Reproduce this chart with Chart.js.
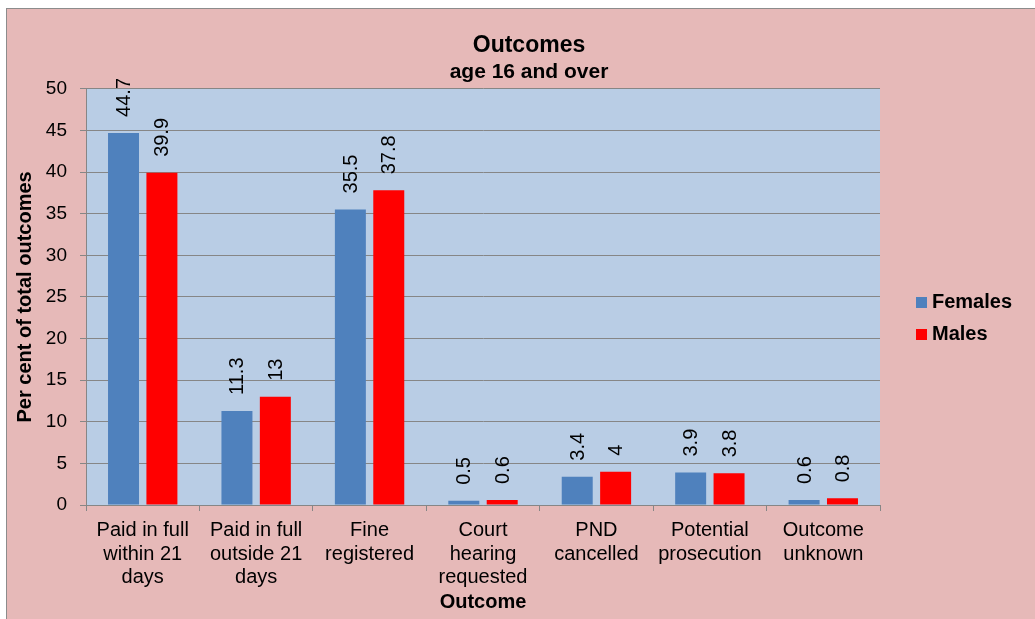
<!DOCTYPE html>
<html>
<head>
<meta charset="utf-8">
<script src="https://cdn.jsdelivr.net/npm/chart.js@4.4.0/dist/chart.umd.min.js"></script>
<style>
  html, body { margin: 0; padding: 0; background: #fff; overflow: hidden; width: 1035px; height: 619px; }
  .chart-frame { position: absolute; left: 6px; top: 8px; width: 1100px; height: 700px; background: #e6b9b8; border: 1px solid #8c8c8c; }
  .chart-box { position: absolute; left: 0; top: 0; width: 1044px; height: 620px; }
</style>
</head>
<body>
<div class="chart-frame"><div class="chart-box"><canvas id="chart"></canvas></div></div>
<script>
const outcomeLabels = [
  ['Paid in full', 'within 21', 'days'],
  ['Paid in full', 'outside 21', 'days'],
  ['Fine', 'registered'],
  ['Court', 'hearing', 'requested'],
  ['PND', 'cancelled'],
  ['Potential', 'prosecution'],
  ['Outcome', 'unknown'],
];
const femalesValues = [44.7, 11.3, 35.5, 0.5, 3.4, 3.9, 0.6];
const malesValues = [39.9, 13, 37.8, 0.6, 4, 3.8, 0.8];
const yTicks = [0, 5, 10, 15, 20, 25, 30, 35, 40, 45, 50];

const fontFamily = "'Liberation Sans', Arial, sans-serif";
const gridGray = '#868686';

// light blue plot background
const plotBackground = {
  id: 'plotBackground',
  beforeDraw(chart) {
    const { ctx, chartArea } = chart;
    ctx.save();
    ctx.fillStyle = '#b9cde5';
    ctx.fillRect(chartArea.left, chartArea.top, chartArea.right - chartArea.left, chartArea.bottom - chartArea.top);
    ctx.restore();
  },
};

// rotated value labels above each bar
const barValueLabels = {
  id: 'barValueLabels',
  afterDatasetsDraw(chart) {
    const { ctx } = chart;
    ctx.save();
    ctx.font = `20px ${fontFamily}`;
    ctx.fillStyle = '#000';
    ctx.textAlign = 'left';
    ctx.textBaseline = 'middle';
    chart.data.datasets.forEach((ds, i) => {
      chart.getDatasetMeta(i).data.forEach((bar, j) => {
        ctx.save();
        ctx.translate(bar.x + 1, bar.y - 16);
        ctx.rotate(-Math.PI / 2);
        ctx.fillText(String(ds.data[j]), 0, 0);
        ctx.restore();
      });
    });
    ctx.restore();
  },
};

// legend on the right, outside the plot
const sideLegend = {
  id: 'sideLegend',
  afterDraw(chart) {
    const { ctx } = chart;
    ctx.save();
    ctx.font = `bold 20px ${fontFamily}`;
    ctx.textBaseline = 'middle';
    ctx.textAlign = 'left';
    chart.data.datasets.forEach((ds, i) => {
      const y = 293.5 + i * 32;
      ctx.fillStyle = ds.backgroundColor;
      ctx.fillRect(909, y - 5.5, 11, 11);
      ctx.fillStyle = '#000';
      ctx.fillText(ds.label, 925, y);
    });
    ctx.restore();
  },
};

const ctx = document.querySelector('#chart').getContext('2d');

const myChart = new Chart(ctx, {
  type: 'bar',
  data: {
    labels: outcomeLabels,
    datasets: [
      { label: 'Females', data: femalesValues, backgroundColor: '#4f81bd' },
      { label: 'Males', data: malesValues, backgroundColor: '#ff0000' },
    ],
  },
  options: {
    responsive: true,
    maintainAspectRatio: false,
    animation: false,
    categoryPercentage: 0.677,
    barPercentage: 0.807,
    layout: { padding: 0 },
    plugins: {
      legend: { display: false },
      tooltip: { enabled: false },
      title: {
        display: true,
        text: 'Outcomes',
        color: '#000',
        font: { family: fontFamily, size: 23, weight: 'bold', lineHeight: 1.2 },
        padding: { top: 23, bottom: 0 },
      },
      subtitle: {
        display: true,
        text: 'age 16 and over',
        color: '#000',
        font: { family: fontFamily, size: 21, weight: 'bold', lineHeight: 1.2 },
        padding: { top: 0, bottom: 4 },
      },
    },
    scales: {
      x: {
        afterFit: (scale) => { scale.height = 124; },
        grid: { display: true, drawOnChartArea: false, drawTicks: true, tickLength: 6, color: gridGray, offset: true },
        border: { display: true, color: gridGray },
        ticks: {
          color: '#000',
          font: { family: fontFamily, size: 20, lineHeight: 1.17 },
          padding: 8,
          maxRotation: 0,
          minRotation: 0,
          autoSkip: false,
        },
        title: {
          display: true,
          text: 'Outcome',
          color: '#000',
          font: { family: fontFamily, size: 20, weight: 'bold', lineHeight: 1.2 },
          padding: { top: 0, bottom: 15 },
        },
      },
      y: {
        min: 0,
        max: 50,
        afterFit: (scale) => { scale.width = 79; },
        afterBuildTicks: (scale) => { scale.ticks = yTicks.map((v) => ({ value: v })); },
        grid: { color: gridGray, tickLength: 6, drawTicks: true },
        border: { display: true, color: gridGray },
        ticks: {
          color: '#000',
          font: { family: fontFamily, size: 19 },
          padding: 13,
        },
        title: {
          display: true,
          text: 'Per cent of total outcomes',
          color: '#000',
          font: { family: fontFamily, size: 20, weight: 'bold', lineHeight: 1.2 },
          padding: { top: 6, bottom: 0 },
        },
      },
      // empty strip on the right that holds the legend
      legendSpace: {
        type: 'linear',
        position: 'right',
        afterFit: (scale) => { scale.width = 171; },
        grid: { display: false },
        border: { display: false },
        ticks: { display: false },
      },
    },
  },
  plugins: [plotBackground, barValueLabels, sideLegend],
});
</script>
</body>
</html>
